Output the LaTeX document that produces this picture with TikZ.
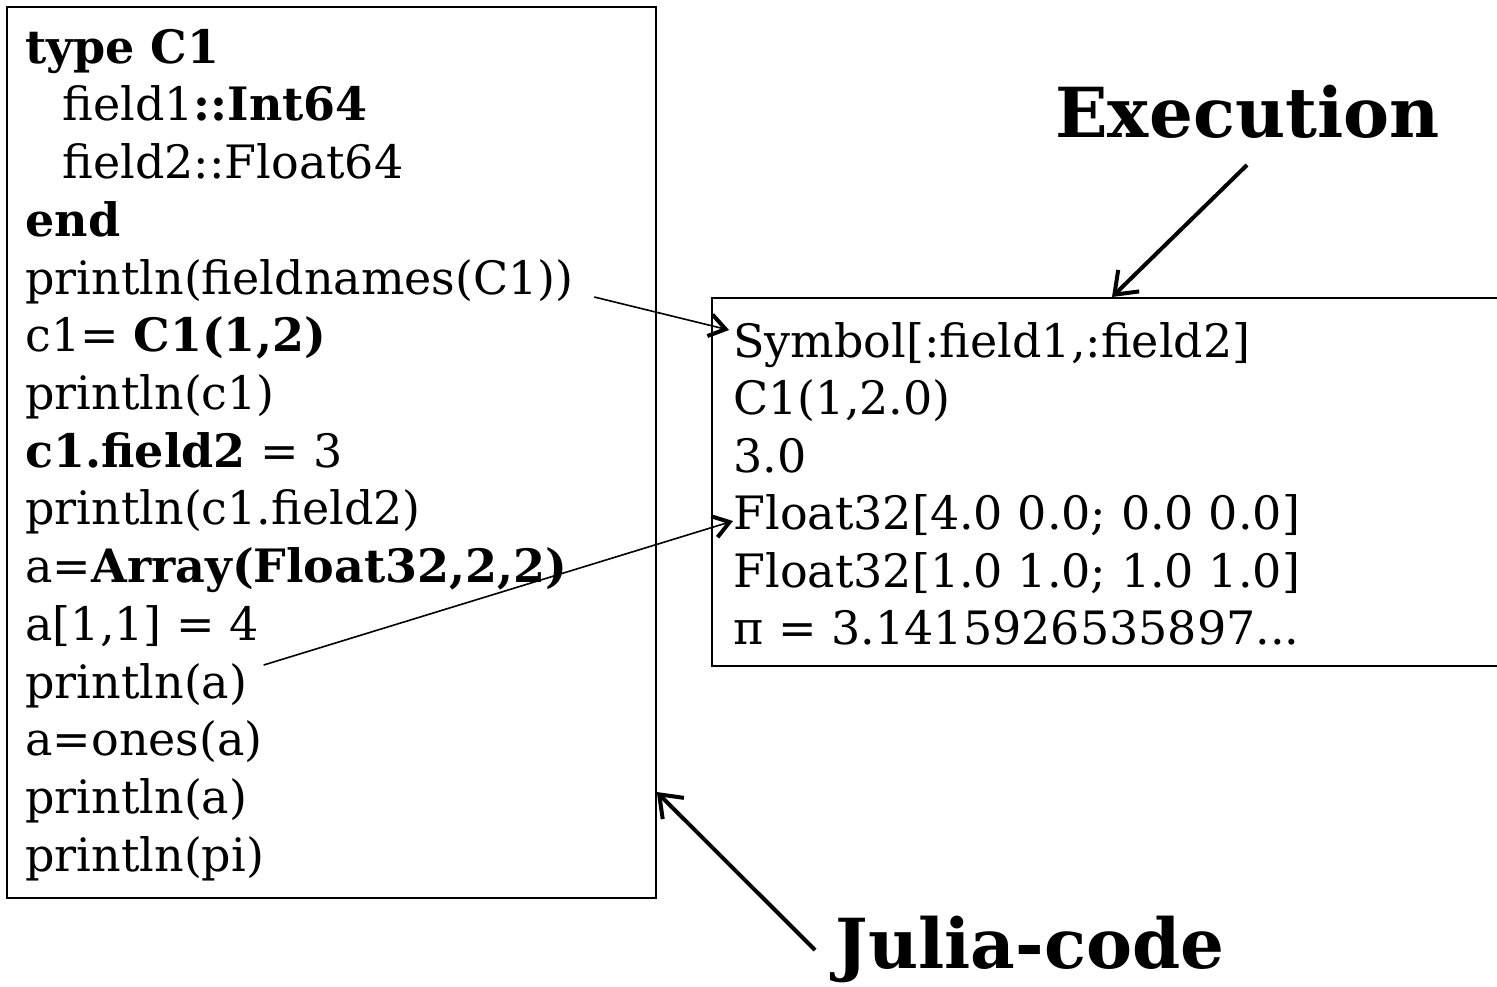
\documentclass[tikz,border=0pt]{standalone}
\usepackage{fontspec}
\setmainfont{DejaVu Serif}
\usetikzlibrary{arrows.meta}
\begin{document}
\begin{tikzpicture}[x=0.5pt,y=-0.5pt,
  codeline/.style={anchor=base west,inner sep=0pt,font=\fontsize{23}{26}\selectfont},
  title/.style={anchor=base west,inner sep=0pt,font=\fontsize{34.5}{40}\selectfont\bfseries},
  panel/.style={draw,line width=0.9pt,anchor=north west,inner sep=0pt},
  bigarrow/.style={line width=2pt,-{Straight Barb[length=10pt,width=15pt,line width=2pt]}},
  thinarrow/.style={line width=0.8pt,-{Straight Barb[length=8pt,width=11pt,line width=2pt]}}]
\useasboundingbox (0,0) rectangle (1497,986);
\clip (0,0) rectangle (1497,986);

% source panel
\node[panel,minimum width=324.5pt,minimum height=445.5pt] (code) at (6,6) {};
\node[codeline] (c1)  at (25,63)   {\textbf{type C1}};
\node[codeline] (c2)  at (62,120)  {field1\textbf{::Int64}};
\node[codeline] (c3)  at (62,178)  {field2::Float64};
\node[codeline] (c4)  at (25,236)  {\textbf{end}};
\node[codeline] (c5)  at (25,294)  {println(fieldnames(C1))};
\node[codeline] (c6)  at (25,351)  {c1= \textbf{C1(1,2)}};
\node[codeline] (c7)  at (25,409)  {println(c1)};
\node[codeline] (c8)  at (25,467)  {\textbf{c1.field2} = 3};
\node[codeline] (c9)  at (25,524)  {println(c1.field2)};
\node[codeline] (c10) at (25,582)  {a=\textbf{Array(Float32,2,2)}};
\node[codeline] (c11) at (25,640)  {a[1,1] = 4};
\node[codeline] (c12) at (25,698)  {println(a)};
\node[codeline] (c13) at (25,755)  {a=ones(a)};
\node[codeline] (c14) at (25,813)  {println(a)};
\node[codeline] (c15) at (25,871)  {println(pi)};

% output panel (runs off the right edge)
\node[panel,minimum width=400pt,minimum height=184pt] (out) at (711,297) {};
\node[codeline] (o1) at (733,357) {Symbol[:field1,:field2]};
\node[codeline] (o2) at (733,414) {C1(1,2.0)};
\node[codeline] (o3) at (733,472) {3.0};
\node[codeline] (o4) at (733,529) {Float32[4.0 0.0; 0.0 0.0]};
\node[codeline] (o5) at (733,587) {Float32[1.0 1.0; 1.0 1.0]};
\node[codeline] (o6) at (733,644) {π = 3.1415926535897...};

% captions
\node[title] (exec) at (1055,137) {Execution};
\node[title] (julia) at (835,968) {Julia-code};

% connectors
\draw[thinarrow] ([shift={(20,3)}]c5.base east) -- ([shift={(-4,-27)}]o1.base west);
\draw[thinarrow] ([shift={(16,-33)}]c12.base east) -- ([shift={(0,-8)}]o4.base west);
\draw[bigarrow] ([shift={(192,28)}]exec.base west) -- (out.north -| 1112,0);
\draw[bigarrow] ([shift={(-20,-18)}]julia.base west) -- (code.east |- 0,792);
\end{tikzpicture}
\end{document}
